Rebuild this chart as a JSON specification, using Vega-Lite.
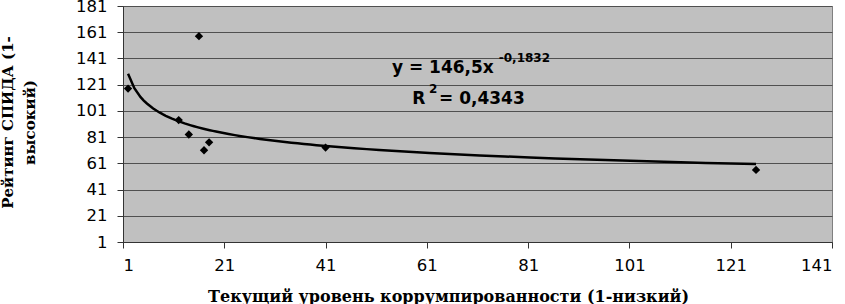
{
  "$schema": "https://vega.github.io/schema/vega-lite/v6.json",
  "autosize": "none",
  "width": 709,
  "height": 236,
  "padding": {"left": 123, "top": 6, "right": 13, "bottom": 62},
  "background": "white",
  "config": {
    "view": {"fill": "#C0C0C0", "stroke": "#808080", "strokeWidth": 1},
    "axis": {
      "labelFont": "DejaVu Sans",
      "labelFontSize": 16.5,
      "labelColor": "#000",
      "labelOverlap": false,
      "domainColor": "#333",
      "tickColor": "#333",
      "tickSize": 6,
      "titleFont": "DejaVu Serif",
      "titleFontWeight": "bold",
      "titleColor": "#000"
    }
  },
  "data": {
    "values": [
      {"x": 2, "y": 118},
      {"x": 12, "y": 94},
      {"x": 14, "y": 83},
      {"x": 16, "y": 158},
      {"x": 17, "y": 71},
      {"x": 18, "y": 77},
      {"x": 41, "y": 73},
      {"x": 126, "y": 56}
    ]
  },
  "layer": [
    {
      "mark": {"type": "point", "shape": "diamond", "filled": true, "color": "#000", "opacity": 1, "size": 70},
      "encoding": {
        "x": {
          "field": "x", "type": "quantitative",
          "scale": {"domain": [1, 141], "nice": false, "zero": false},
          "axis": {
            "values": [1, 21, 41, 61, 81, 101, 121, 141],
            "tickCount": 20,
            "grid": false,
            "labelPadding": 9,
            "title": "Текущий  уровень коррумпированности (1-низкий)",
            "titleFontSize": 16,
            "titleX": 325,
            "titleY": 59,
            "titleAlign": "center",
            "titleBaseline": "alphabetic"
          }
        },
        "y": {
          "field": "y", "type": "quantitative",
          "scale": {"domain": [1, 181], "nice": false, "zero": false},
          "axis": {
            "values": [1, 21, 41, 61, 81, 101, 121, 141, 161, 181],
            "tickCount": 20,
            "grid": true,
            "gridColor": "#505050",
            "gridWidth": 1,
            "labelPadding": 10,
            "title": ["Рейтинг СПИДА (1-", "высокий)"],
            "titleFontSize": 15,
            "titleLineHeight": 22,
            "titleAngle": 270,
            "titleX": -123,
            "titleY": 116,
            "titleAlign": "center",
            "titleBaseline": "top"
          }
        }
      }
    },
    {
      "transform": [{"regression": "y", "on": "x", "method": "pow"}],
      "mark": {"type": "line", "color": "#000", "strokeWidth": 2.5},
      "encoding": {
        "x": {"field": "x", "type": "quantitative"},
        "y": {"field": "y", "type": "quantitative"}
      }
    },
    {
      "data": {"values": [{}]},
      "mark": {"type": "text", "text": "y = 146,5x", "font": "DejaVu Sans", "fontWeight": "bold", "fontSize": 17, "align": "left", "baseline": "alphabetic", "color": "#000"},
      "encoding": {"x": {"datum": 54.1}, "y": {"datum": 129.7}}
    },
    {
      "data": {"values": [{}]},
      "mark": {"type": "text", "text": "-0,1832", "font": "DejaVu Sans", "fontWeight": "bold", "fontSize": 12, "align": "left", "baseline": "alphabetic", "color": "#000"},
      "encoding": {"x": {"datum": 75.2}, "y": {"datum": 138.1}}
    },
    {
      "data": {"values": [{}]},
      "mark": {"type": "text", "text": "R", "font": "DejaVu Sans", "fontWeight": "bold", "fontSize": 17, "align": "left", "baseline": "alphabetic", "color": "#000"},
      "encoding": {"x": {"datum": 58.1}, "y": {"datum": 106.3}}
    },
    {
      "data": {"values": [{}]},
      "mark": {"type": "text", "text": "2", "font": "DejaVu Sans", "fontWeight": "bold", "fontSize": 12, "align": "left", "baseline": "alphabetic", "color": "#000"},
      "encoding": {"x": {"datum": 61.4}, "y": {"datum": 114.4}}
    },
    {
      "data": {"values": [{}]},
      "mark": {"type": "text", "text": "= 0,4343", "font": "DejaVu Sans", "fontWeight": "bold", "fontSize": 17, "align": "left", "baseline": "alphabetic", "color": "#000"},
      "encoding": {"x": {"datum": 63.4}, "y": {"datum": 106.3}}
    }
  ]
}
